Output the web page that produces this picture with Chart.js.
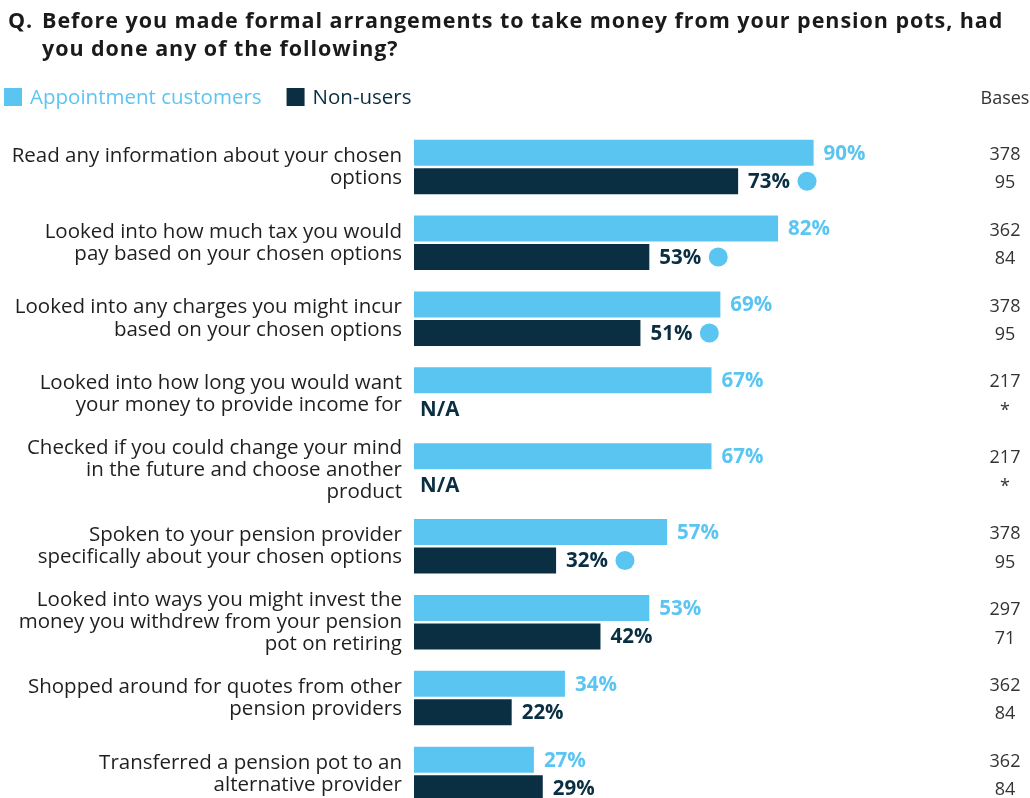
<!DOCTYPE html>
<html>
<head>
<meta charset="utf-8">
<script src="https://cdn.jsdelivr.net/npm/chart.js@4.4.0/dist/chart.umd.min.js"></script>
<style>
  html, body { margin: 0; padding: 0; background: #fff; overflow: hidden; }
  #wrap { width: 1030px; height: 846px; position: relative; }
</style>
</head>
<body>
<div id="wrap"><canvas id="grafica"></canvas></div>
<script>
const categorias = [
    ['Read any information about your chosen', 'options'],
    ['Looked into how much tax you would', 'pay based on your chosen options'],
    ['Looked into any charges you might incur', 'based on your chosen options'],
    ['Looked into how long you would want', 'your money to provide income for'],
    ['Checked if you could change your mind', 'in the future and choose another', 'product'],
    ['Spoken to your pension provider', 'specifically about your chosen options'],
    ['Looked into ways you might invest the', 'money you withdrew from your pension', 'pot on retiring'],
    ['Shopped around for quotes from other', 'pension providers'],
    ['Transferred a pension pot to an', 'alternative provider']
];
const appointment = [90, 82, 69, 67, 67, 57, 53, 34, 27];
const nonUsers = [73, 53, 51, null, null, 32, 42, 22, 29];
const significant = [true, true, true, false, false, true, false, false, false];
const basesAppointment = ['378', '362', '378', '217', '217', '378', '297', '362', '362'];
const basesNonUsers = ['95', '84', '95', '*', '*', '95', '71', '84', '84'];

const titleLines = ['Before you made formal arrangements to take money from your pension pots, had', 'you done any of the following?'];
const seriesNames = ['Appointment customers', 'Non-users'];

const LIGHT = '#5bc5f2';
const DARK = '#0a2f42';
const FONT = '"Open Sans", "Noto Sans", sans-serif';

// texto del encabezado, etiquetas de valor y columna de bases
const extras = {
    id: 'extras',
    afterDraw(chart) {
        const ctx = chart.ctx;
        ctx.save();
        // titulo
        ctx.fillStyle = '#1a1a1a';
        ctx.font = 'bold 21.5px ' + FONT;
        ctx.letterSpacing = '0.95px';
        ctx.textBaseline = 'middle';
        ctx.textAlign = 'left';
        ctx.fillText('Q.', 8, 22);
        ctx.fillText(titleLines[0], 42, 22);
        ctx.fillText(titleLines[1], 42, 50);
        ctx.letterSpacing = '0px';

        // leyenda
        const colores = [LIGHT, DARK];
        let x = 4;
        ctx.font = '20.5px ' + FONT;
        seriesNames.forEach((name, i) => {
            ctx.fillStyle = colores[i];
            ctx.fillRect(x, 88, 18, 18);
            ctx.fillText(name, x + 26, 98);
            x += 26 + ctx.measureText(name).width + 25;
        });
        ctx.fillStyle = '#333';
        ctx.font = '18px ' + FONT;
        ctx.textAlign = 'center';
        ctx.fillText('Bases', 1005, 99);

        // etiquetas de valor
        const colorTexto = [LIGHT, DARK];
        const bases = [basesAppointment, basesNonUsers];
        chart.data.datasets.forEach((ds, d) => {
            const meta = chart.getDatasetMeta(d);
            meta.data.forEach((bar, i) => {
                const v = ds.data[i];
                ctx.textAlign = 'left';
                ctx.font = 'bold 20.5px ' + FONT;
                ctx.fillStyle = colorTexto[d];
                if (v === null) {
                    ctx.fillStyle = DARK;
                    ctx.fillText('N/A', chart.chartArea.left + 6, bar.y + 1);
                } else {
                    const txt = v + '%';
                    ctx.fillText(txt, bar.x + 10, bar.y + 1);
                    if (d === 1 && significant[i]) {
                        const w = ctx.measureText(txt).width;
                        ctx.beginPath();
                        ctx.fillStyle = LIGHT;
                        ctx.arc(bar.x + 10 + w + 17, bar.y, 9.5, 0, Math.PI * 2);
                        ctx.fill();
                    }
                }
                ctx.font = '18px ' + FONT;
                ctx.fillStyle = '#333';
                ctx.textAlign = 'center';
                ctx.fillText(bases[d][i], 1005, bar.y + 2);
            });
        });
        ctx.restore();
    }
};

new Chart('grafica', {
    type: 'bar',
    data: {
        labels: categorias,
        datasets: [{
            label: seriesNames[0],
            data: appointment,
            backgroundColor: LIGHT,
            categoryPercentage: 0.752,
            barPercentage: 0.91
        }, {
            label: seriesNames[1],
            data: nonUsers,
            backgroundColor: DARK,
            categoryPercentage: 0.752,
            barPercentage: 0.91
        }]
    },
    options: {
        indexAxis: 'y',
        responsive: true,
        maintainAspectRatio: false,
        animation: false,
        layout: {
            padding: { top: 129, bottom: 0, left: 0, right: 172 }
        },
        plugins: {
            legend: { display: false },
            tooltip: { enabled: false }
        },
        scales: {
            x: {
                display: false,
                min: 0,
                max: 100
            },
            y: {
                grid: { display: false, drawTicks: false },
                border: { display: false },
                ticks: {
                    color: '#1f1f1f',
                    padding: 12,
                    autoSkip: false,
                    font: { family: FONT, size: 20.5, lineHeight: 1.08 }
                },
                afterFit(scale) {
                    scale.width = 414;
                }
            }
        }
    },
    plugins: [extras]
});
</script>
</body>
</html>
